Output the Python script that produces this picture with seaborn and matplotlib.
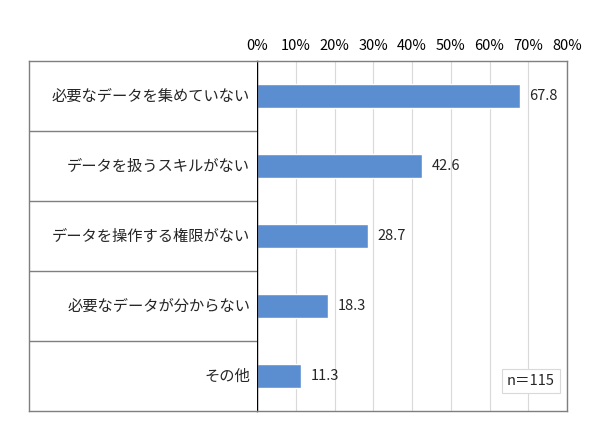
import matplotlib
matplotlib.use('Agg')
import matplotlib.pyplot as plt
import seaborn as sns
from matplotlib.ticker import FuncFormatter

categories = ['必要なデータを集めていない', 'データを扱うスキルがない', 'データを操作する権限がない',
              '必要なデータが分からない', 'その他']
values = [67.8, 42.6, 28.7, 18.3, 11.3]
xticks = [0, 10, 20, 30, 40, 50, 60, 70, 80]
note = 'n＝115'

sns.set_style('white')
plt.rcParams['font.family'] = ['Noto Sans CJK JP', 'DejaVu Sans']

W, H = 590, 432
fig = plt.figure(figsize=(W / 100, H / 100), dpi=100)
top, bottom = 61, 411
x0, x1, xl = 257, 567, 29
ax = fig.add_axes([x0 / W, (H - bottom) / H, (x1 - x0) / W, (bottom - top) / H])
axl = fig.add_axes([xl / W, (H - bottom) / H, (x0 - xl) / W, (bottom - top) / H])

bar_color = '#5B8ED1'
sns.barplot(x=values, y=categories, color=bar_color, width=0.34, orient='h', ax=ax, saturation=1)
ax.set_xlim(0, 80)
ax.set_ylim(len(categories) - 0.5, -0.5)
ax.set_xticks(xticks)
ax.xaxis.set_major_formatter(FuncFormatter(lambda v, p: f'{v:.0f}%'))
ax.xaxis.tick_top()
ax.tick_params(axis='x', length=0, pad=6, labelsize=10.5, colors='black')
ax.set_yticks([])
ax.set_xlabel('')
ax.set_ylabel('')
ax.grid(axis='x', color='#D9D9D9', linewidth=0.8)
ax.set_axisbelow(True)
for s in ['top', 'right', 'bottom']:
    ax.spines[s].set_color('#7F7F7F')
    ax.spines[s].set_linewidth(1)
ax.spines['left'].set_color('black')
ax.spines['left'].set_linewidth(1)

for i, v in enumerate(values):
    ax.annotate(f'{v:.1f}', (v, i), xytext=(7, 0), textcoords='offset points',
                va='center', ha='left', fontsize=10.5)

ax.text(0.96, 0.085, note, transform=ax.transAxes, ha='right', va='center', fontsize=10.5,
        bbox=dict(boxstyle='square,pad=0.35', facecolor='white', edgecolor='#D9D9D9', linewidth=0.8))

# left label panel
axl.set_xlim(0, 1)
axl.set_ylim(len(categories) - 0.5, -0.5)
axl.set_xticks([])
axl.set_yticks([])
for s in ['top', 'left', 'bottom']:
    axl.spines[s].set_color('#7F7F7F')
    axl.spines[s].set_linewidth(1)
axl.spines['right'].set_visible(False)
for i in range(1, len(categories)):
    axl.axhline(i - 0.5, color='#7F7F7F', linewidth=1)
for i, c in enumerate(categories):
    axl.text(0.97, i, c, ha='right', va='center', fontsize=11)

fig.savefig('out.png', dpi=100)
